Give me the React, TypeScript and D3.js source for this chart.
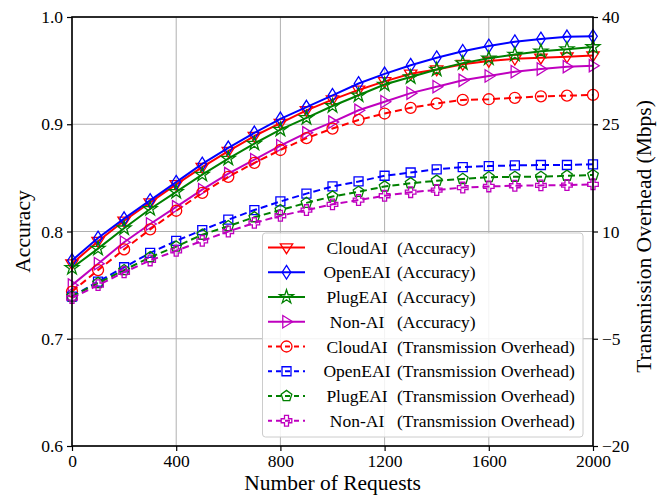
import React, { useRef, useEffect } from 'react';
import * as d3 from 'd3';

const requests = [0, 100, 200, 300, 400, 500, 600, 700, 800, 900, 1000, 1100, 1200, 1300, 1400, 1500, 1600, 1700, 1800, 1900, 2000];

const cloudAcc = [0.770, 0.791, 0.810, 0.827, 0.844, 0.860, 0.875, 0.889, 0.901, 0.913, 0.923, 0.932, 0.940, 0.947, 0.951, 0.956, 0.959, 0.961, 0.962, 0.963, 0.964];
const openAcc = [0.773, 0.794, 0.812, 0.829, 0.846, 0.863, 0.878, 0.892, 0.905, 0.916, 0.927, 0.938, 0.947, 0.955, 0.962, 0.968, 0.973, 0.977, 0.9795, 0.9815, 0.982];
const plugAcc = [0.766, 0.784, 0.803, 0.821, 0.837, 0.853, 0.868, 0.882, 0.895, 0.906, 0.917, 0.927, 0.937, 0.944, 0.951, 0.957, 0.9615, 0.965, 0.968, 0.970, 0.972];
const nonAcc = [0.750, 0.770, 0.790, 0.807, 0.823, 0.839, 0.854, 0.867, 0.880, 0.892, 0.902, 0.913, 0.921, 0.929, 0.935, 0.941, 0.945, 0.949, 0.9515, 0.9537, 0.9546];

const cloudOvh = [1.6, 4.6, 7.5, 10.3, 12.9, 15.4, 17.65, 19.6, 21.4, 23.05, 24.4, 25.6, 26.5, 27.3, 27.9, 28.4, 28.5, 28.7, 28.9, 29.0, 29.1];
const openOvh = [0.9, 3.0, 5.0, 7.0, 8.7, 10.2, 11.65, 13.0, 14.2, 15.3, 16.3, 17.0, 17.8, 18.25, 18.7, 19.0, 19.15, 19.25, 19.3, 19.3, 19.4];
const plugOvh = [0.9, 2.8, 4.6, 6.4, 7.9, 9.55, 10.75, 12.0, 13.0, 14.0, 14.9, 15.55, 16.3, 16.75, 17.1, 17.35, 17.6, 17.65, 17.65, 17.8, 17.9];
const nonOvh = [0.7, 2.5, 4.3, 5.95, 7.3, 8.7, 10.0, 11.2, 12.2, 13.0, 13.8, 14.4, 15.0, 15.5, 15.8, 16.15, 16.3, 16.4, 16.45, 16.5, 16.6];

const xTicks = [0, 400, 800, 1200, 1600, 2000];
const accTicks = [0.6, 0.7, 0.8, 0.9, 1.0];
const ovhTicks = [-20, -5, 10, 25, 40];

const names = ['CloudAI', 'OpenEAI', 'PlugEAI', 'Non-AI'];
const colors = ['#ff0000', '#0000ff', '#008000', '#bf00bf'];

const FONT = '"Liberation Serif", "Times New Roman", serif';

// marker paths centred on 0,0
function markerPath(kind: string): string {
  switch (kind) {
    case 'v': { const r = 6.2; return `M${-r},${-r * 0.6}L${r},${-r * 0.6}L0,${r}Z`; }
    case '>': { const r = 6.2; return `M${-r * 0.6},${-r}L${r},0L${-r * 0.6},${r}Z`; }
    case 'd': return 'M0,-6.8L4.3,0L0,6.8L-4.3,0Z';
    case 'o': return d3.symbol(d3.symbolCircle, 95)() as string;
    case 's': return 'M-4.5,-4.5L4.5,-4.5L4.5,4.5L-4.5,4.5Z';
    case '*': return d3.symbol(d3.symbolStar, 60)() as string;
    case 'p': {
      const r = 5.6;
      const pts = d3.range(5).map(i => {
        const a = -Math.PI / 2 + i * 2 * Math.PI / 5;
        return [r * Math.cos(a), r * Math.sin(a)];
      });
      return 'M' + pts.map(p => p.join(',')).join('L') + 'Z';
    }
    case 'P': {
      const a = 2, b = 5.3;
      return `M${-a},${-b}L${a},${-b}L${a},${-a}L${b},${-a}L${b},${a}L${a},${a}L${a},${b}L${-a},${b}L${-a},${a}L${-b},${a}L${-b},${-a}L${-a},${-a}Z`;
    }
  }
  return '';
}

const App = () => {
  const svgRef = useRef<SVGSVGElement>(null);

  useEffect(() => {
    const svg = d3.select(svgRef.current);
    svg.selectAll('*').remove();
    const width = 661;
    const height = 498;
    const margin = { top: 17, right: 68, bottom: 52, left: 72 };
    const x0 = margin.left, x1 = width - margin.right, y0 = height - margin.bottom, y1 = margin.top;

    const x = d3.scaleLinear().domain([0, 2000]).range([x0, x1]);
    const yAcc = d3.scaleLinear().domain([0.6, 1.0]).range([y0, y1]);
    const yOvh = d3.scaleLinear().domain([-20, 40]).range([y0, y1]);

    svg.append('rect').attr('width', width).attr('height', height).attr('fill', '#fff');

    // grid
    const grid = svg.append('g').attr('stroke', '#b0b0b0').attr('stroke-width', 1);
    xTicks.forEach(t => grid.append('line').attr('x1', x(t)).attr('x2', x(t)).attr('y1', y0).attr('y2', y1));
    accTicks.forEach(t => grid.append('line').attr('x1', x0).attr('x2', x1).attr('y1', yAcc(t)).attr('y2', yAcc(t)));

    const series = [
      { ys: cloudAcc, scale: yAcc, color: colors[0], marker: 'v', dash: null },
      { ys: openAcc, scale: yAcc, color: colors[1], marker: 'd', dash: null },
      { ys: plugAcc, scale: yAcc, color: colors[2], marker: '*', dash: null },
      { ys: nonAcc, scale: yAcc, color: colors[3], marker: '>', dash: null },
      { ys: cloudOvh, scale: yOvh, color: colors[0], marker: 'o', dash: '7,4' },
      { ys: openOvh, scale: yOvh, color: colors[1], marker: 's', dash: '7,4' },
      { ys: plugOvh, scale: yOvh, color: colors[2], marker: 'p', dash: '7,4' },
      { ys: nonOvh, scale: yOvh, color: colors[3], marker: 'P', dash: '7,4' },
    ];

    series.forEach(s => {
      const pts = requests.map((r, i) => [x(r), s.scale(s.ys[i])] as [number, number]);
      svg.append('path')
        .attr('d', d3.line()(pts))
        .attr('fill', 'none')
        .attr('stroke', s.color)
        .attr('stroke-width', 2)
        .attr('stroke-dasharray', s.dash);
      svg.append('g').selectAll('path').data(pts).enter().append('path')
        .attr('d', markerPath(s.marker))
        .attr('transform', d => `translate(${d[0]},${d[1]})`)
        .attr('fill', 'none')
        .attr('stroke', s.color)
        .attr('stroke-width', 1.3);
    });

    // axes
    const styleAxis = (g: any) => {
      g.select('.domain').remove();
      g.selectAll('text').attr('font-family', FONT).attr('font-size', 17.5).attr('fill', '#000');
      g.selectAll('line').attr('stroke', '#000').attr('stroke-width', 1.2);
    };
    svg.append('g').attr('transform', `translate(0,${y0})`)
      .call(d3.axisBottom(x).tickValues(xTicks).tickSize(5).tickPadding(4).tickFormat(d3.format('d')))
      .call(styleAxis);
    svg.append('g').attr('transform', `translate(${x0},0)`)
      .call(d3.axisLeft(yAcc).tickValues(accTicks).tickSize(5).tickPadding(4).tickFormat(d3.format('.1f')))
      .call(styleAxis);
    svg.append('g').attr('transform', `translate(${x1},0)`)
      .call(d3.axisRight(yOvh).tickValues(ovhTicks).tickSize(5).tickPadding(4).tickFormat(d3.format('d')))
      .call(styleAxis);

    svg.append('rect').attr('x', x0).attr('y', y1).attr('width', x1 - x0).attr('height', y0 - y1)
      .attr('fill', 'none').attr('stroke', '#000').attr('stroke-width', 1.6);

    // axis labels
    svg.append('text').attr('x', (x0 + x1) / 2).attr('y', 490).attr('text-anchor', 'middle')
      .attr('font-family', FONT).attr('font-size', 21.5).text('Number of Requests');
    svg.append('text').attr('transform', `translate(30,${(y0 + y1) / 2}) rotate(-90)`).attr('text-anchor', 'middle')
      .attr('font-family', FONT).attr('font-size', 21.5).text('Accuracy');
    svg.append('text').attr('transform', `translate(651,${(y0 + y1) / 2 + 5}) rotate(-90)`).attr('text-anchor', 'middle')
      .attr('font-family', FONT).attr('font-size', 21.5).text('Transmission Overhead (Mbps)');

    // legend
    const lg = svg.append('g');
    lg.append('rect').attr('x', 262.5).attr('y', 233).attr('width', 320.5).attr('height', 204).attr('rx', 3)
      .attr('fill', 'rgba(255,255,255,0.85)').attr('stroke', '#cccccc').attr('stroke-width', 1);
    const labels = [
      ...names.map(n => [n, '(Accuracy)']),
      ...names.map(n => [n, '(Transmission Overhead)']),
    ];
    series.forEach((s, i) => {
      const yy = 247.5 + i * 24.75;
      lg.append('line').attr('x1', 268).attr('x2', 305).attr('y1', yy).attr('y2', yy)
        .attr('stroke', s.color).attr('stroke-width', 2).attr('stroke-dasharray', s.dash ? '5,4' : null)
        .attr('stroke-dashoffset', s.dash ? 1 : null);
      lg.append('path').attr('d', markerPath(s.marker)).attr('transform', `translate(286.5,${yy})`)
        .attr('fill', 'none').attr('stroke', s.color).attr('stroke-width', 1.3);
      lg.append('text').attr('x', 357).attr('y', yy + 6).attr('text-anchor', 'middle')
        .attr('font-family', FONT).attr('font-size', 17.5).text(labels[i][0]);
      lg.append('text').attr('x', 397).attr('y', yy + 6)
        .attr('font-family', FONT).attr('font-size', 17.5).text(labels[i][1]);
    });
  }, []);

  return (
    <svg ref={svgRef} width="661" height="498" style={{ position: 'absolute', left: 0, top: 0 }}></svg>
  );
};

export default App;
